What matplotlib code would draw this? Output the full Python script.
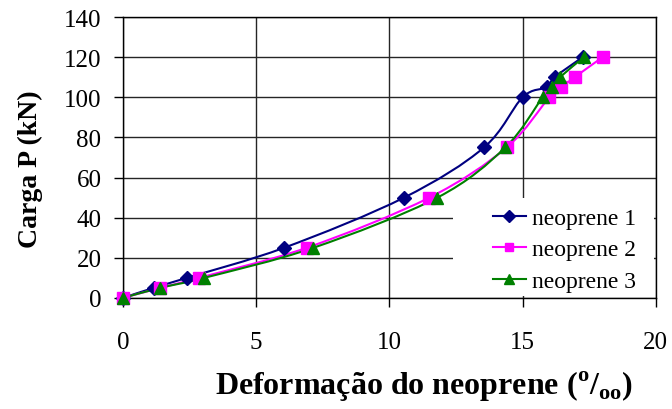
import numpy as np
import matplotlib
matplotlib.use("Agg")
import matplotlib.pyplot as plt
from matplotlib.path import Path
from matplotlib.patches import PathPatch, Rectangle
from matplotlib.lines import Line2D

plt.rcParams['font.family'] = ['Liberation Serif', 'DejaVu Serif']
plt.rcParams['mathtext.fontset'] = 'custom'
plt.rcParams['mathtext.rm'] = 'Liberation Serif:bold'
plt.rcParams['mathtext.bf'] = 'Liberation Serif:bold'

# data
carga = [0, 5, 10, 25, 50, 75, 100, 105, 110, 120]
neo1 = [0, 1.15, 2.4, 6.05, 10.55, 13.55, 15.0, 15.9, 16.2, 17.25]
neo2 = [0, 1.4, 2.85, 6.9, 11.5, 14.4, 16.0, 16.45, 16.95, 18.0]
neo3 = [0, 1.4, 3.05, 7.15, 11.8, 14.35, 15.75, 16.1, 16.4, 17.3]

series = [("neoprene 1", neo1, "#000080", "D", 7.5),
          ("neoprene 2", neo2, "#FF00FF", "s", 8),
          ("neoprene 3", neo3, "#008000", "^", 9)]


def smooth_path(x, y):
    # bezier through the points, like Excel's smoothed line
    p = np.column_stack([x, y]).astype(float)
    verts = [p[0]]
    codes = [Path.MOVETO]
    n = len(p)
    for i in range(n - 1):
        p0 = p[i - 1] if i > 0 else p[i]
        p3 = p[i + 2] if i + 2 < n else p[i + 1]
        c1 = p[i] + (p[i + 1] - p0) / 6.0
        c2 = p[i + 1] - (p3 - p[i]) / 6.0
        verts += [c1, c2, p[i + 1]]
        codes += [Path.CURVE4] * 3
    return Path(verts, codes)


fig = plt.figure(figsize=(6.72, 4.10), dpi=100)
ax = fig.add_axes([0.183, 0.271, 0.793, 0.685])

handles = []
for name, xs, col, mk, ms in series:
    ax.add_patch(PathPatch(smooth_path(xs, carga), facecolor="none",
                           edgecolor=col, lw=1.5, zorder=3))
    ax.plot(xs, carga, linestyle="none", marker=mk, ms=ms, color=col,
            zorder=4, clip_on=False)
    handles.append(Line2D([], [], color=col, lw=1.5, marker=mk, ms=ms * 0.8))

ax.set_xlim(0, 20)
ax.set_ylim(0, 140)
ax.set_xticks(range(0, 21, 5))
ax.set_yticks(range(0, 141, 20))
ax.grid(True, color="#252525", lw=1.0)
ax.set_axisbelow(True)
for s in ax.spines.values():
    s.set_color("black")
    s.set_linewidth(1.0)
ax.tick_params(direction="out", length=6.5, width=1, labelsize=18)
ax.tick_params(axis="y", pad=9)
ax.tick_params(axis="x", pad=17)

ax.set_xlabel("Deformação do neoprene ($^{\\mathrm{o}}$/$_{\\mathrm{oo}}$)",
              fontsize=23, fontweight="bold")
ax.xaxis.set_label_coords(0.565, -0.252)
ax.set_ylabel("Carga P (kN)", fontsize=20, fontweight="bold")
ax.yaxis.set_label_coords(-0.15, 0.463)

# white legend background covering the grid
ax.add_patch(Rectangle((0.619, 0.007), 0.377, 0.349, transform=ax.transAxes,
                       facecolor="white", edgecolor="none", zorder=2.5))
leg = ax.legend(handles=handles, labels=[s[0] for s in series],
                loc="center left", bbox_to_anchor=(0.672, 0.172),
                fontsize=17, frameon=False, handlelength=1.4,
                handletextpad=0.25, borderpad=0, labelspacing=0.42)
leg.set_zorder(5)

fig.savefig("out.png", dpi=100)
